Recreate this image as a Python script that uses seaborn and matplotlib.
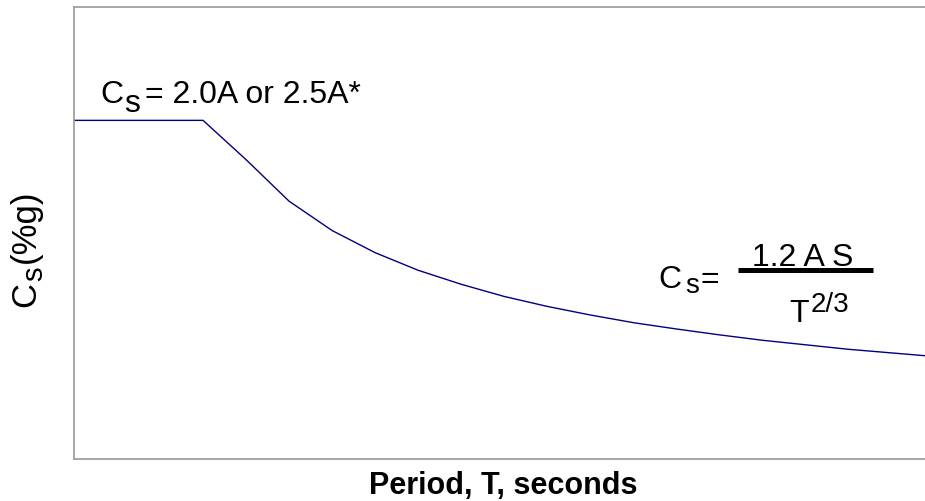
import matplotlib
matplotlib.use("Agg")
import matplotlib.pyplot as plt
import seaborn as sns
import pandas as pd

# Seismic response coefficient vs. period
period = [0.0, 0.3, 0.4, 0.5, 0.6, 0.7, 0.8, 0.9, 1.0, 1.1, 1.2, 1.3,
          1.4, 1.5, 1.6, 1.7, 1.8, 1.9, 2.0]
cs = [0.75, 0.75, 0.663, 0.571, 0.506, 0.457, 0.418, 0.387, 0.360, 0.338,
      0.319, 0.302, 0.288, 0.275, 0.263, 0.253, 0.243, 0.235, 0.227]

df = pd.DataFrame({"T": period, "Cs": cs})

sns.set_theme(style="white")
plt.rcParams["font.family"] = ["Liberation Sans", "DejaVu Sans"]
plt.rcParams["text.color"] = "black"

DESC = 0.21  # descender depth of the font, in em


def rich_text(ax, x, y, pieces, transform=None, rotation=0, **kw):
    """Draw a run of text pieces: (text, size, rise_pt, gap_pt)."""
    text, size, rise, _ = pieces[0]
    if rotation:
        prev = ax.text(x, y, text, fontsize=size, rotation=90,
                       rotation_mode="anchor", ha="left", va="baseline",
                       transform=transform or ax.transData, **kw)
    else:
        prev = ax.text(x, y, text, fontsize=size, ha="left", va="baseline",
                       transform=transform or ax.transData, **kw)
    psize, prise = size, rise
    for text, size, rise, gap in pieces[1:]:
        off = DESC * (psize - size) + rise - prise
        if rotation:
            prev = ax.annotate(text, xy=(1, 1), xycoords=prev,
                               xytext=(-off, gap), textcoords="offset points",
                               fontsize=size, rotation=90, ha="right",
                               va="bottom", **kw)
        else:
            prev = ax.annotate(text, xy=(1, 0), xycoords=prev,
                               xytext=(gap, off), textcoords="offset points",
                               fontsize=size, ha="left", va="bottom", **kw)
        psize, prise = size, rise
    return prev


fig = plt.figure(figsize=(9.25, 5.02), dpi=100)
ax = fig.add_axes([0.08, 0.0837, 0.93, 0.8994])

sns.lineplot(data=df, x="T", y="Cs", ax=ax, color="#000080", linewidth=1.0)

ax.set_xlim(0, 2.0)
ax.set_ylim(0, 1.0)
ax.set_xticks([])
ax.set_yticks([])
ax.set_xlabel("")
ax.set_ylabel("")
for side in ["left", "top", "bottom"]:
    ax.spines[side].set_color("#a0a0a0")
    ax.spines[side].set_linewidth(1.3)
ax.spines["right"].set_visible(False)

fig.text(0.544, 0.016, "Period, T, seconds", fontsize=22, fontweight="bold",
         ha="center", va="baseline", color="black")

# Vertical axis title
rich_text(ax, 35 / 925, (502 - 307) / 502,
          [("C", 25, 0, 0), ("s", 21, -5, 0.5), ("(%g)", 25, 0, 3)],
          transform=fig.transFigure, rotation=90)

# Plateau label
rich_text(ax, 0.0605, 0.7916,
          [("C", 23, 0, 0), ("s", 23, -6.5, 0.5), ("= 2.0A or 2.5A*", 23, 0, 4)])

# Formula for the descending branch
rich_text(ax, 1.358, 0.381, [("C", 23, 0, 0), ("s", 20, -3.6, 3), ("=", 23, 0, 1)])
ax.text(1.694, 0.430, "1.2 A S", fontsize=23, ha="center", va="baseline")
ax.plot([1.544, 1.858], [0.418, 0.418], color="black", linewidth=3.6,
        solid_capstyle="butt")
rich_text(ax, 1.662, 0.306, [("T", 23, 0, 0), ("2/3", 20, 7, 1.5)])

fig.savefig("out.png", dpi=100)
